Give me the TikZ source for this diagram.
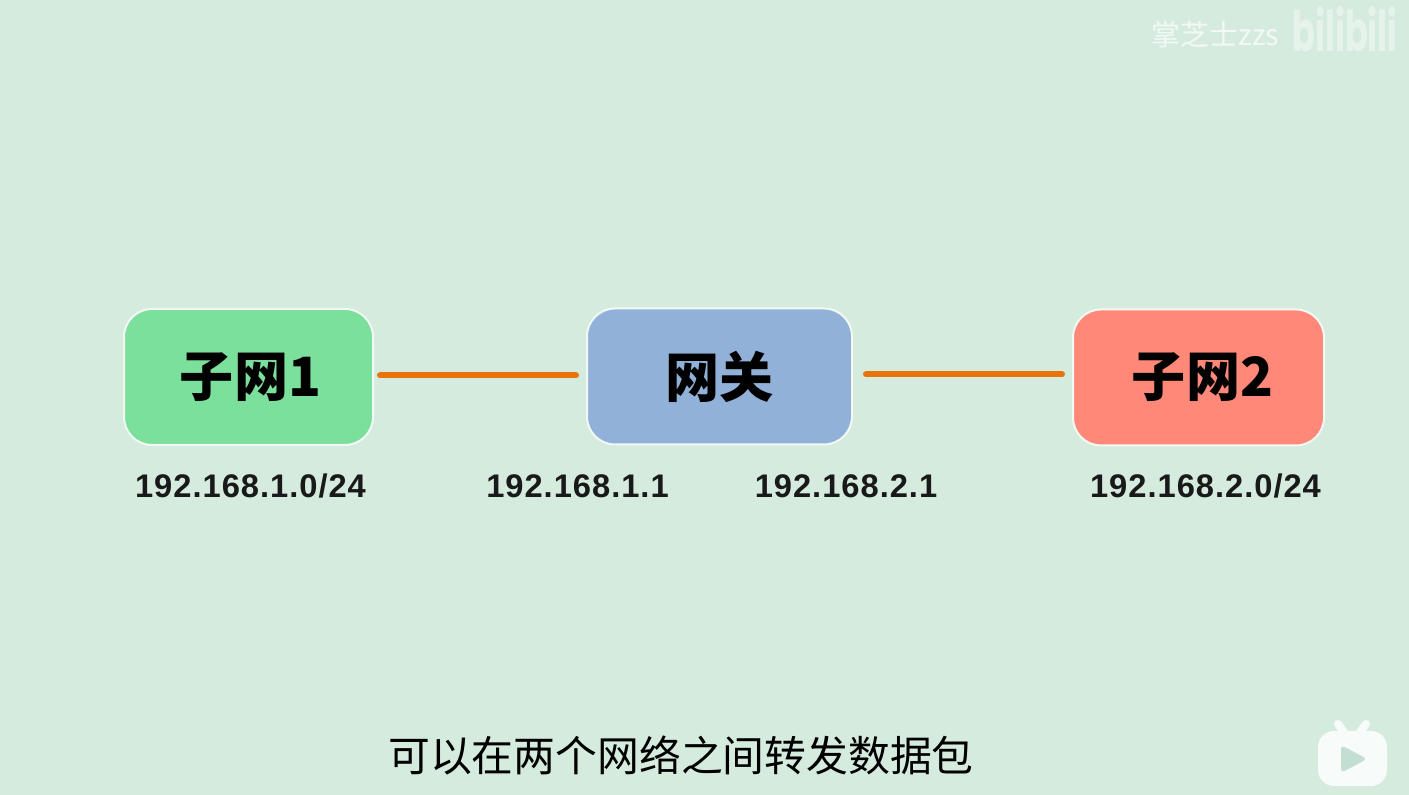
\documentclass[tikz,border=0pt]{standalone}
\usepackage{fontspec}
\setmainfont{Liberation Sans}
\newfontfamily\cjk{Noto Sans CJK SC}

\definecolor{bgcol}{HTML}{D5EBDE}
\definecolor{subgreen}{HTML}{7BE09B}
\definecolor{gateblue}{HTML}{92B1D8}
\definecolor{subred}{HTML}{FF8878}
\definecolor{linkorange}{HTML}{E8750C}
\definecolor{iconwhite}{HTML}{F7FBF9}
\definecolor{playcol}{HTML}{C3DFD1}

\tikzset{
  netbox/.style={draw=white!70!bgcol, line width=0.02cm, rounded corners=0.28cm, minimum height=1.36cm, outer sep=0pt, font=\cjk\bfseries\fontsize{15.4}{18}\selectfont, text=black},
  link/.style={linkorange, line width=0.06cm, line cap=round},
  addr/.style={anchor=base, font=\addfontfeatures{LetterSpace=3}\bfseries\fontsize{9.3}{11}\selectfont, text=black!90},
  mark text/.style={text=white, text opacity=0.7},
  antenna/.style={iconwhite, line width=0.08cm, line cap=round}
}

\begin{document}
\begin{tikzpicture}[every node/.style={inner sep=0pt}]
\useasboundingbox (0,0) rectangle (14.09,7.95);
\fill[bgcol] (0,0) rectangle (14.09,7.95);

\node[netbox, fill=subgreen, minimum width=2.49cm] (subnet1) at (2.485,4.18) {\hspace*{0.04cm}子网1};
\node[netbox, fill=gateblue, minimum width=2.65cm] (gateway) at (7.195,4.185) {网关};
\node[netbox, fill=subred, minimum width=2.51cm] (subnet2) at (11.985,4.175) {\hspace*{0.08cm}子网2};

\coordinate (level1) at (0,4.195);
\coordinate (level2) at (0,4.205);
\draw[link, shorten <=0.07cm, shorten >=0.11cm] (subnet1.east |- level1) -- (gateway.west |- level1);
\draw[link, shorten <=0.14cm, shorten >=0.11cm] (gateway.east |- level2) -- (subnet2.west |- level2);

\node[addr] (addr1) at (2.505,2.97) {192.168.1.0/24};
\node[addr] (addr2) at (5.775,2.97) {192.168.1.1};
\node[addr] (addr3) at (8.46,2.97) {192.168.2.1};
\node[addr] (addr4) at (12.055,2.97) {192.168.2.0/24};

\node[font=\cjk\fontsize{11.9}{14}\selectfont, text=black] (caption) at (6.81,0.4) {可以在两个网络之间转发数据包};

% watermark
\node[mark text, font=\cjk\fontsize{8.2}{10}\selectfont] (owner) at (12.155,7.6) {掌芝士zzs};
\node[text=white, text opacity=0.4, font=\fontspec{Poppins}\bfseries\fontsize{16}{19}\selectfont, xscale=0.6] (logo) at (13.45,7.66) {bilibili};

% play icon
\draw[antenna] (13.38,0.71) -- (13.46,0.60);
\draw[antenna] (13.66,0.71) -- (13.58,0.60);
\node[fill=iconwhite, rounded corners=0.16cm, minimum width=0.69cm, minimum height=0.55cm] (player) at (13.525,0.365) {};
\fill[playcol, rounded corners=0.04cm] (13.41,0.50) -- (13.67,0.36) -- (13.41,0.22) -- cycle;
\end{tikzpicture}
\end{document}
